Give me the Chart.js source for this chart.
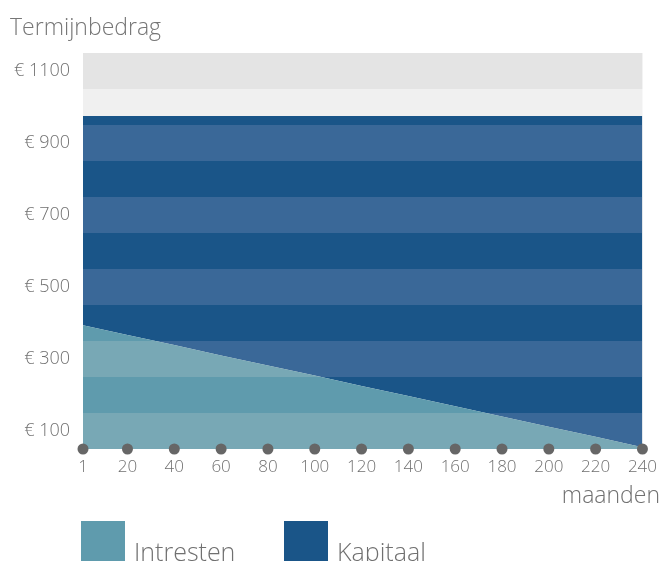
<!DOCTYPE html>
<html>
<head>
<meta charset="utf-8">
<script src="https://cdn.jsdelivr.net/npm/chart.js@4.4.1/dist/chart.umd.min.js"></script>
<style>
  html, body { margin: 0; padding: 0; background: #ffffff; overflow: hidden; }
  #wrap { position: relative; width: 665px; height: 561px; }
  #chart { position: absolute; left: 0; top: 0; }
  #legend { position: absolute; left: 81px; top: 521px; display: flex; flex-direction: row; }
  .lg-item { display: flex; flex-direction: row; align-items: flex-start; width: 203px; }
  .lg-box { width: 44px; height: 40px; }
  .lg-text { margin-left: 9px; margin-top: 18px; font-family: "Open Sans", sans-serif; font-weight: 300;
             font-size: 25px; line-height: 25px; color: #707070; white-space: nowrap; }
</style>
</head>
<body>
<div id="wrap">
  <canvas id="chart" width="665" height="561"></canvas>
  <div id="legend"></div>
</div>
<script>
// ---- data ----
const months = [1, 20, 40, 60, 80, 100, 120, 140, 160, 180, 200, 220, 240];
const intresten = [344, 317, 289, 260, 232, 204, 175, 147, 119, 90, 62, 34, 5];
const kapitaal = [581, 608, 636, 665, 693, 721, 750, 778, 806, 835, 863, 891, 920];
const yTickValues = [100, 300, 500, 700, 900, 1100];
const yMax = 1100;
const bandStep = 100;
const chartTitle = 'Termijnbedrag';
const xAxisTitle = 'maanden';
const seriesNames = ['Intresten', 'Kapitaal'];

const FONT = '"Open Sans", sans-serif';
const TEXT = '#707070';

function stripes(light, dark) {
  return (context) => {
    const chart = context.chart;
    const { chartArea, scales } = chart;
    if (!chartArea || !scales.y) return dark;
    const y0 = scales.y.getPixelForValue(0);
    const y1 = scales.y.getPixelForValue(yMax);
    const g = chart.ctx.createLinearGradient(0, y0, 0, y1);
    const n = Math.round(yMax / bandStep);
    for (let k = 0; k < n; k++) {
      const c = k % 2 === 0 ? light : dark;
      g.addColorStop(k / n, c);
      g.addColorStop((k + 1) / n, c);
    }
    return g;
  };
}

const bandsPlugin = {
  id: 'bands',
  beforeDraw(chart) {
    const { ctx, chartArea, scales } = chart;
    const y = scales.y;
    ctx.save();
    const n = Math.round(yMax / bandStep);
    for (let k = 0; k < n; k++) {
      const top = y.getPixelForValue((k + 1) * bandStep);
      const bot = y.getPixelForValue(k * bandStep);
      ctx.fillStyle = k % 2 === 0 ? '#e4e4e4' : '#f0f0f0';
      ctx.fillRect(chartArea.left, top, chartArea.right - chartArea.left, bot - top);
    }
    ctx.restore();
  },
  afterDraw(chart) {
    const { ctx } = chart;
    ctx.save();
    ctx.font = '300 23px ' + FONT;
    ctx.fillStyle = TEXT;
    ctx.textAlign = 'right';
    ctx.textBaseline = 'alphabetic';
    ctx.fillText(xAxisTitle, 660, 503);
    ctx.restore();
  }
};

const htmlLegendPlugin = {
  id: 'htmlLegend',
  afterUpdate(chart) {
    const box = document.getElementById('legend');
    box.innerHTML = '';
    chart.data.datasets.forEach((ds) => {
      if (!ds.legendColor) return;
      const item = document.createElement('div');
      item.className = 'lg-item';
      const sw = document.createElement('div');
      sw.className = 'lg-box';
      sw.style.background = ds.legendColor;
      const tx = document.createElement('span');
      tx.className = 'lg-text';
      tx.textContent = ds.label;
      item.appendChild(sw);
      item.appendChild(tx);
      box.appendChild(item);
    });
  }
};

new Chart(document.getElementById('chart'), {
  type: 'line',
  data: {
    datasets: [
      {
        label: seriesNames[0],
        data: months.map((m, i) => ({ x: m, y: intresten[i] })),
        backgroundColor: stripes('#78a8b5', '#5f9bad'),
        legendColor: '#5f9bad',
        borderWidth: 0,
        pointRadius: 0,
        fill: 'origin',
        tension: 0
      },
      {
        label: seriesNames[1],
        data: months.map((m, i) => ({ x: m, y: kapitaal[i] })),
        backgroundColor: stripes('#3a6898', '#1a5588'),
        legendColor: '#1a5588',
        borderWidth: 0,
        pointRadius: 0,
        fill: '-1',
        tension: 0
      },
      {
        label: 'ticks',
        data: months.map((m) => ({ x: m, y: 0 })),
        stack: 'dots',
        order: -1,
        showLine: false,
        fill: false,
        pointRadius: 5.5,
        pointBackgroundColor: '#666666',
        pointBorderWidth: 0,
        clip: false
      }
    ]
  },
  options: {
    responsive: false,
    animation: false,
    events: [],
    layout: { padding: { left: 10, right: 22, top: 0, bottom: 0 } },
    plugins: {
      legend: { display: false },
      tooltip: { enabled: false },
      title: {
        display: true,
        text: chartTitle,
        align: 'start',
        color: '#767676',
        font: { family: FONT, size: 23, weight: '300' },
        padding: { top: 15, bottom: 10.4 }
      }
    },
    scales: {
      x: {
        type: 'linear',
        min: months[0],
        max: months[months.length - 1],
        grid: { display: false, drawTicks: false },
        border: { display: false },
        afterBuildTicks(scale) { scale.ticks = months.map((v) => ({ value: v })); },
        afterFit(scale) { scale.height = 112; },
        ticks: {
          autoSkip: false,
          maxRotation: 0,
          padding: 8,
          color: TEXT,
          font: { family: FONT, size: 17, weight: '300' },
          callback: (v) => String(v)
        }
      },
      y: {
        stacked: true,
        min: 0,
        max: yMax,
        grid: { display: false, drawTicks: false },
        border: { display: false },
        afterBuildTicks(scale) { scale.ticks = yTickValues.map((v) => ({ value: v })); },
        afterFit(scale) { scale.width = 73; },
        ticks: {
          padding: 13,
          labelOffset: 18,
          color: TEXT,
          font: { family: FONT, size: 18, weight: '300' },
          callback: (v) => '€ ' + v
        }
      }
    }
  },
  plugins: [bandsPlugin, htmlLegendPlugin]
});
</script>
</body>
</html>
